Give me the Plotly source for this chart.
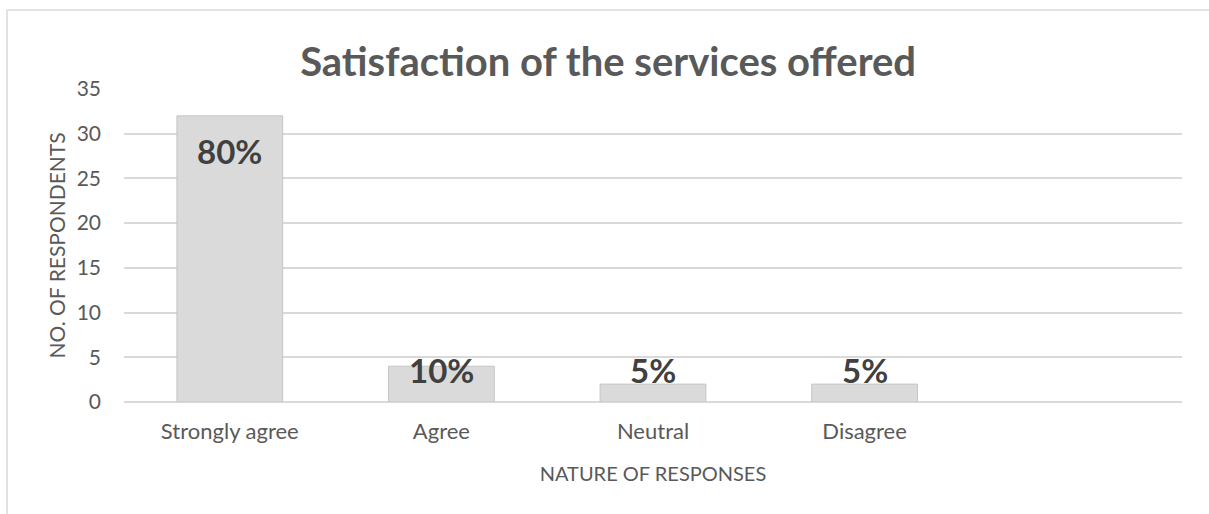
import plotly.graph_objects as go

categories = ["Strongly agree", "Agree", "Neutral", "Disagree"]
respondents = [32, 4, 2, 2]
percent_labels = ["80%", "10%", "5%", "5%"]
y_ticks = [0, 5, 10, 15, 20, 25, 30, 35]

x_pos = list(range(len(categories)))

fig = go.Figure()
fig.add_trace(go.Bar(
    x=x_pos,
    y=respondents,
    width=0.5,
    marker=dict(color="#dadada", line=dict(color="#c6c6c6", width=1)),
    hoverinfo="skip",
))

for xi, v, lab in zip(x_pos, respondents, percent_labels):
    fig.add_annotation(
        x=xi, y=max(v - 3.9, 3.6), text=lab, showarrow=False,
        xref="x", yref="y", yanchor="middle",
        font=dict(family="Lato", size=33, color="#404040", weight="bold"),
    )

W, H = 1209, 514
L, R, T, B = 124, 27, 89, 112
pw, ph = W - L - R, H - T - B
fig.update_layout(
    width=W, height=H,
    margin=dict(l=L, r=R, t=T, b=B),
    paper_bgcolor="white", plot_bgcolor="white",
    showlegend=False,
    font=dict(family="Lato", size=21, color="#595959"),
    title=dict(
        text="<b>Satisfaction of the services offered</b>",
        x=0.503, xref="container", xanchor="center",
        y=1 - 62 / H, yref="container", yanchor="middle",
        font=dict(family="Lato", size=40, color="#595959"),
    ),
    xaxis=dict(
        range=[-0.5, 4.5], tickvals=x_pos, ticktext=categories,
        showgrid=False, zeroline=False, showline=False, ticks="",
        ticklabelstandoff=14, tickfont=dict(size=22),
        title=dict(text="NATURE OF RESPONSES", standoff=23, font=dict(size=20, color="#595959")),
    ),
    yaxis=dict(
        range=[0, 35], tickvals=y_ticks,
        showgrid=True, gridcolor="#d9d9d9", gridwidth=1.5,
        zeroline=True, zerolinecolor="#d9d9d9", zerolinewidth=1.5,
        showline=False, ticks="", ticklabelstandoff=22, tickfont=dict(size=21),
        title=dict(text="NO. OF RESPONDENTS", standoff=5, font=dict(size=21, color="#595959")),
    ),
    shapes=[
        dict(type="line", xref="paper", yref="paper",
             x0=(7 - L) / pw, x1=(W - L) / pw, y0=1 + (T - 10) / ph, y1=1 + (T - 10) / ph,
             line=dict(color="#d9d9d9", width=1.5)),
        dict(type="line", xref="paper", yref="paper",
             x0=(7 - L) / pw, x1=(7 - L) / pw, y0=-B / ph, y1=1 + (T - 10) / ph,
             line=dict(color="#d9d9d9", width=1.5)),
    ],
)

fig.write_html("out.html", config={"displayModeBar": False},
               post_script="document.body.style.margin='0';")
